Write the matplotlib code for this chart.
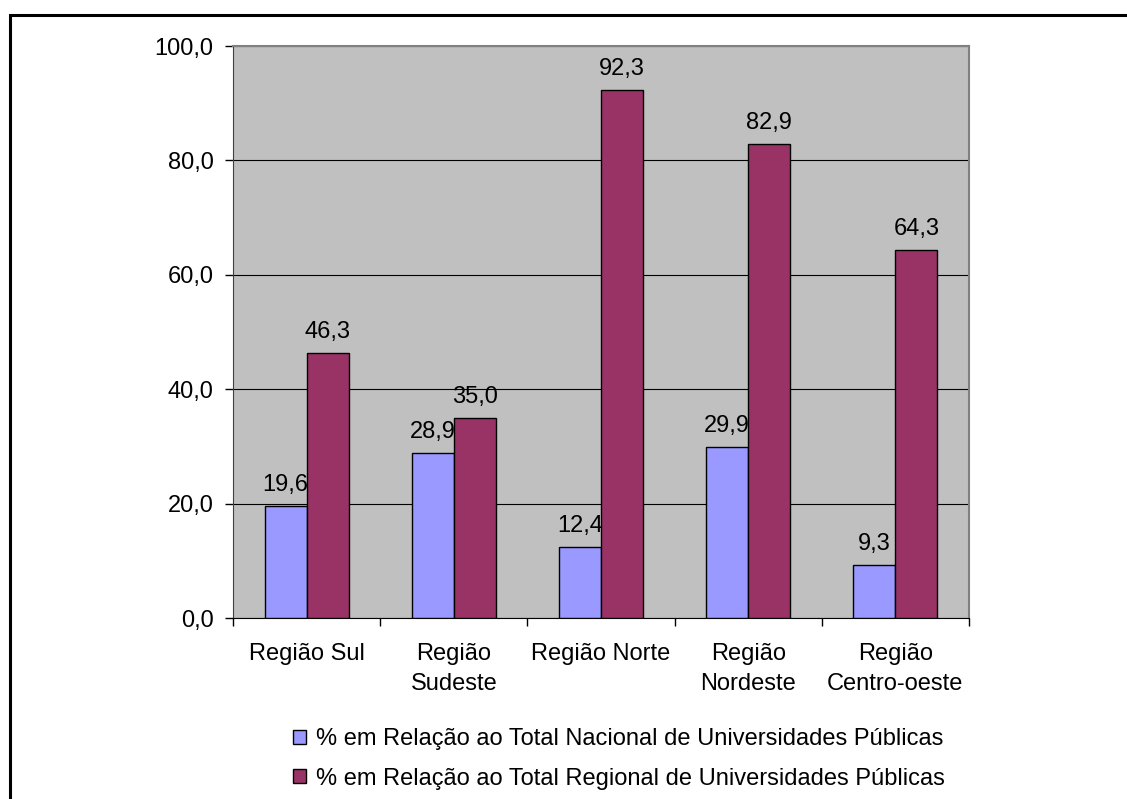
import matplotlib.pyplot as plt
import numpy as np
from matplotlib.patches import Rectangle, Patch

plt.rcParams['font.family'] = ['Liberation Sans', 'DejaVu Sans']

# data
regioes = ['Região Sul', 'Região\nSudeste', 'Região Norte', 'Região\nNordeste', 'Região\nCentro-oeste']
nacional = [19.6, 28.9, 12.4, 29.9, 9.3]
regional = [46.3, 35.0, 92.3, 82.9, 64.3]
y_ticks = [0, 20, 40, 60, 80, 100]
legenda = ['% em Relação ao Total Nacional de Universidades Públicas',
           '% em Relação ao Total Regional de Universidades Públicas']

cor_azul = '#9999FF'
cor_vinho = '#993366'
fs = 17

W, H = 1127, 799
fig = plt.figure(figsize=(W / 100, H / 100), dpi=100)
ax = fig.add_axes([233 / W, 1 - 618 / H, (969 - 233) / W, (618 - 46) / H])

# black frame of the chart area (only left and top are visible in the picture)
fig.patches.append(Rectangle((10 / W, -0.1), 1.2, 1 - 15 / H + 0.1, transform=fig.transFigure,
                             fill=False, edgecolor='black', linewidth=2.2))

x = np.arange(len(regioes))
w = 0.285
b1 = ax.bar(x - w / 2, nacional, w, color=cor_azul, edgecolor='black', linewidth=1, zorder=3)
b2 = ax.bar(x + w / 2, regional, w, color=cor_vinho, edgecolor='black', linewidth=1, zorder=3)

# labels sit under the bars, so the neighbouring bar covers the overlap like in the original
for bars, vals in ((b1, nacional), (b2, regional)):
    for rect, v in zip(bars, vals):
        ax.annotate(f'{v:.1f}'.replace('.', ','), (rect.get_x() + rect.get_width() / 2, v),
                    xytext=(0, 7), textcoords='offset points', ha='center', va='bottom',
                    fontsize=fs, zorder=2.5)

ax.set_facecolor('#C0C0C0')
ax.set_xlim(-0.5, len(regioes) - 0.5)
ax.set_ylim(0, 100)
ax.set_yticks(y_ticks)
ax.set_yticklabels([f'{t:.1f}'.replace('.', ',') for t in y_ticks], fontsize=fs)
ax.yaxis.grid(True, color='black', linewidth=0.8, zorder=1)
ax.set_axisbelow(True)

# category ticks sit between groups, labels in the middle
ax.set_xticks(np.arange(len(regioes) + 1) - 0.5)
ax.set_xticklabels([])
ax.set_xticks(x, minor=True)
ax.set_xticklabels(regioes, minor=True, fontsize=fs, linespacing=1.45)
ax.tick_params(axis='x', which='minor', length=0, pad=18)
ax.tick_params(axis='x', which='major', length=6, width=1, direction='out')
ax.tick_params(axis='y', length=6, width=1, direction='out', pad=8)

for s in ['top', 'right']:
    ax.spines[s].set_color('#808080')
    ax.spines[s].set_linewidth(1.5)
ax.spines['left'].set_color('#404040')
ax.spines['bottom'].set_color('black')

handles = [Patch(facecolor=cor_azul, edgecolor='black'), Patch(facecolor=cor_vinho, edgecolor='black')]
fig.legend(handles, legenda, loc='center', bbox_to_anchor=(619 / W, 1 - 759 / H), ncol=1,
           frameon=False, fontsize=fs, handlelength=0.55, handleheight=0.55,
           handletextpad=0.45, labelspacing=0.72)

fig.savefig('out.png', dpi=100)
